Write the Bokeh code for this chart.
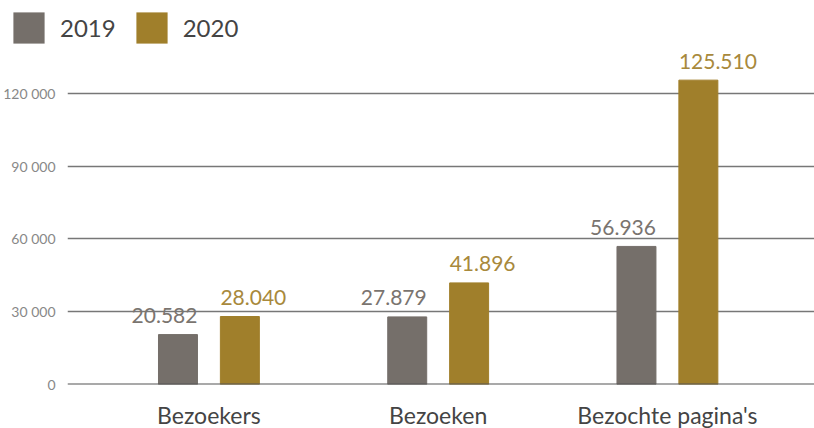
from bokeh.plotting import figure
from bokeh.models import ColumnDataSource, Range1d, FixedTicker, Legend, LegendItem, Span
from bokeh.layouts import column
from bokeh.core.properties import value
from bokeh.embed import file_html
from bokeh.resources import INLINE

categories = ["Bezoekers", "Bezoeken", "Bezochte pagina's"]
series_names = ["2019", "2020"]
values_2019 = [20582, 27879, 56936]
values_2020 = [28040, 41896, 125510]
labels_2019 = ["20.582", "27.879", "56.936"]
labels_2020 = ["28.040", "41.896", "125.510"]
y_ticks = [0, 30000, 60000, 90000, 120000]
y_tick_labels = ["0", "30 000", "60 000", "90 000", "120 000"]

FONT = "Lato"
C2019 = "#756f6a"
C2020 = "#a07f2b"

idx = list(range(len(categories)))
off = 0.135
bw = 0.170

src19 = ColumnDataSource(dict(x=[i - off for i in idx], top=values_2019,
                              lx=[i - off + bw / 2 for i in idx], lab=labels_2019))
src20 = ColumnDataSource(dict(x=[i + off for i in idx], top=values_2020,
                              lx=[i + off - bw / 2 for i in idx], lab=labels_2020))

# ---- legend strip ----
lf = figure(frame_width=814, frame_height=47, min_border=0, x_axis_type=None, y_axis_type=None,
            x_range=Range1d(0, 1), y_range=Range1d(0, 1),
            output_backend="svg", toolbar_location=None)
lf.outline_line_color = None
lf.xgrid.visible = False
lf.ygrid.visible = False
# zero-size proxy glyphs, used only as legend swatches
d19 = lf.vbar(x=[0], top=[0], bottom=[0], width=0, fill_color=C2019, line_color=C2019, line_width=0)
d20 = lf.vbar(x=[0], top=[0], bottom=[0], width=0, fill_color=C2020, line_color=C2020, line_width=0)
legend = Legend(items=[LegendItem(label=series_names[0], renderers=[d19]),
                       LegendItem(label=series_names[1], renderers=[d20])],
                location=(9, 0), orientation="horizontal",
                glyph_width=39, glyph_height=39, label_standoff=12, spacing=16,
                padding=0, margin=0, border_line_color=None, background_fill_alpha=0,
                label_text_font=FONT, label_text_font_size="24px", label_text_color="#444444",
                label_height=39)
lf.add_layout(legend, "center")

# ---- main chart ----
p = figure(frame_width=747, frame_height=337, min_border_left=67, min_border_right=0,
           min_border_top=0, min_border_bottom=44,
           x_range=Range1d(-0.6169, 2.6416), y_range=Range1d(0, 138969),
           output_backend="svg", toolbar_location=None)
p.outline_line_color = None

p.vbar(x="x", top="top", width=bw, source=src19, color=C2019)
p.vbar(x="x", top="top", width=bw, source=src20, color=C2020)

p.text(x="lx", y="top", text="lab", source=src19, text_align="right", text_baseline="alphabetic",
       y_offset=-19, text_font=value(FONT), text_font_size="21px", text_color="#7a746f")
p.text(x="lx", y="top", text="lab", source=src20, text_align="left", text_baseline="alphabetic",
       y_offset=-19, text_font=value(FONT), text_font_size="21px", text_color="#a8893c")

p.xaxis.ticker = FixedTicker(ticks=idx)
p.xaxis.major_label_overrides = {i: c for i, c in zip(idx, categories)}
p.xaxis.axis_line_color = None
p.xaxis.major_tick_line_color = None
p.xaxis.minor_tick_line_color = None
p.xaxis.major_label_text_font = FONT
p.xaxis.major_label_text_font_size = "23px"
p.xaxis.major_label_text_color = "#444444"
p.xaxis.major_label_standoff = 10
p.xgrid.grid_line_color = None

p.yaxis.ticker = FixedTicker(ticks=y_ticks)
p.yaxis.major_label_overrides = {t: l for t, l in zip(y_ticks, y_tick_labels)}
p.yaxis.axis_line_color = None
p.yaxis.major_tick_line_color = None
p.yaxis.minor_tick_line_color = None
p.yaxis.major_label_text_font = FONT
p.yaxis.major_label_text_font_size = "14px"
p.yaxis.major_label_text_color = "#888888"
p.yaxis.major_label_standoff = 6
p.ygrid.ticker = FixedTicker(ticks=y_ticks)
p.ygrid.grid_line_color = "#777777"
p.ygrid.grid_line_width = 1.5
p.ygrid.level = "underlay"

p.add_layout(Span(location=0, dimension="width", line_color="#555555", line_width=2))

layout = column(lf, p, spacing=0)
open("out.html", "w").write(file_html(layout, INLINE))
